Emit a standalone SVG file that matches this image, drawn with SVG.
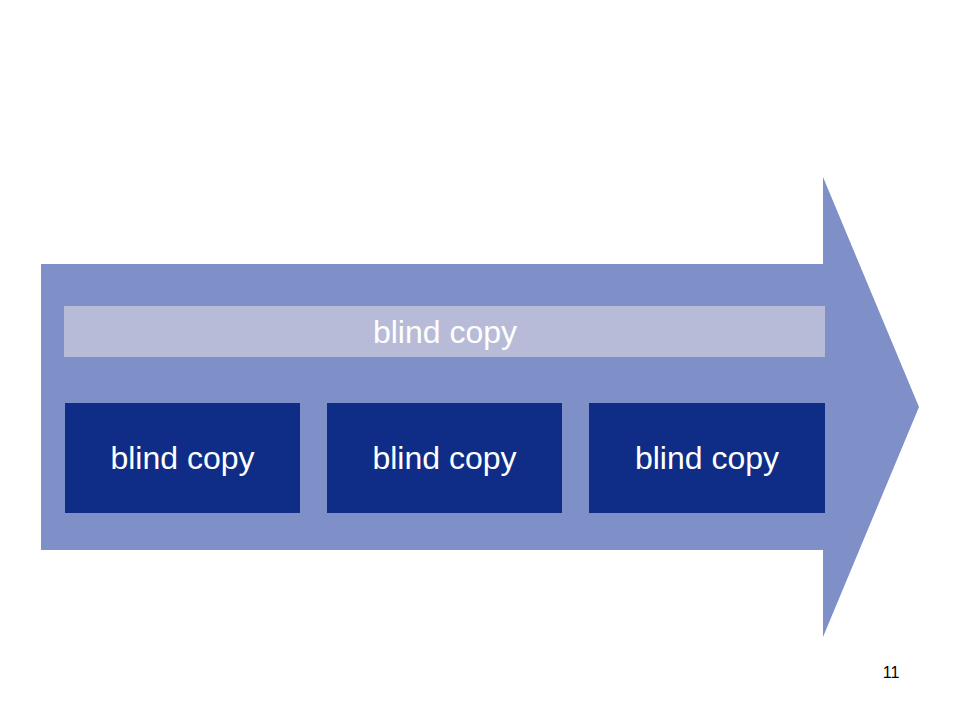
<svg xmlns="http://www.w3.org/2000/svg" width="960" height="720" viewBox="0 0 960 720">
<style>
.t{font-family:"Liberation Sans",Arial,sans-serif;font-size:32px;fill:#ffffff;text-anchor:middle}
.dark{fill:#0f2d87}
.pg{font-family:"Liberation Sans",Arial,sans-serif;font-size:16px;fill:#000000;text-anchor:middle}
</style>
<rect width="960" height="720" fill="#ffffff"/>
<g id="arrow">
<polygon points="41,264 823,264 823,177 919,407 823,637 823,550 41,550" fill="#7f8fc8"/>
</g>
<g id="bar">
<rect x="64" y="306" width="761" height="51" fill="#b8bbd8"/>
<text class="t" x="445" y="343">blind copy</text>
</g>
<g id="box1">
<rect class="dark" x="65" y="403" width="235" height="110"/>
<text class="t" x="182.5" y="469">blind copy</text>
</g>
<g id="box2">
<rect class="dark" x="327" y="403" width="235" height="110"/>
<text class="t" x="444.5" y="469">blind copy</text>
</g>
<g id="box3">
<rect class="dark" x="589" y="403" width="236" height="110"/>
<text class="t" x="707" y="469">blind copy</text>
</g>
<g id="connectors"></g>
<text class="pg" x="891" y="678">11</text>
</svg>
